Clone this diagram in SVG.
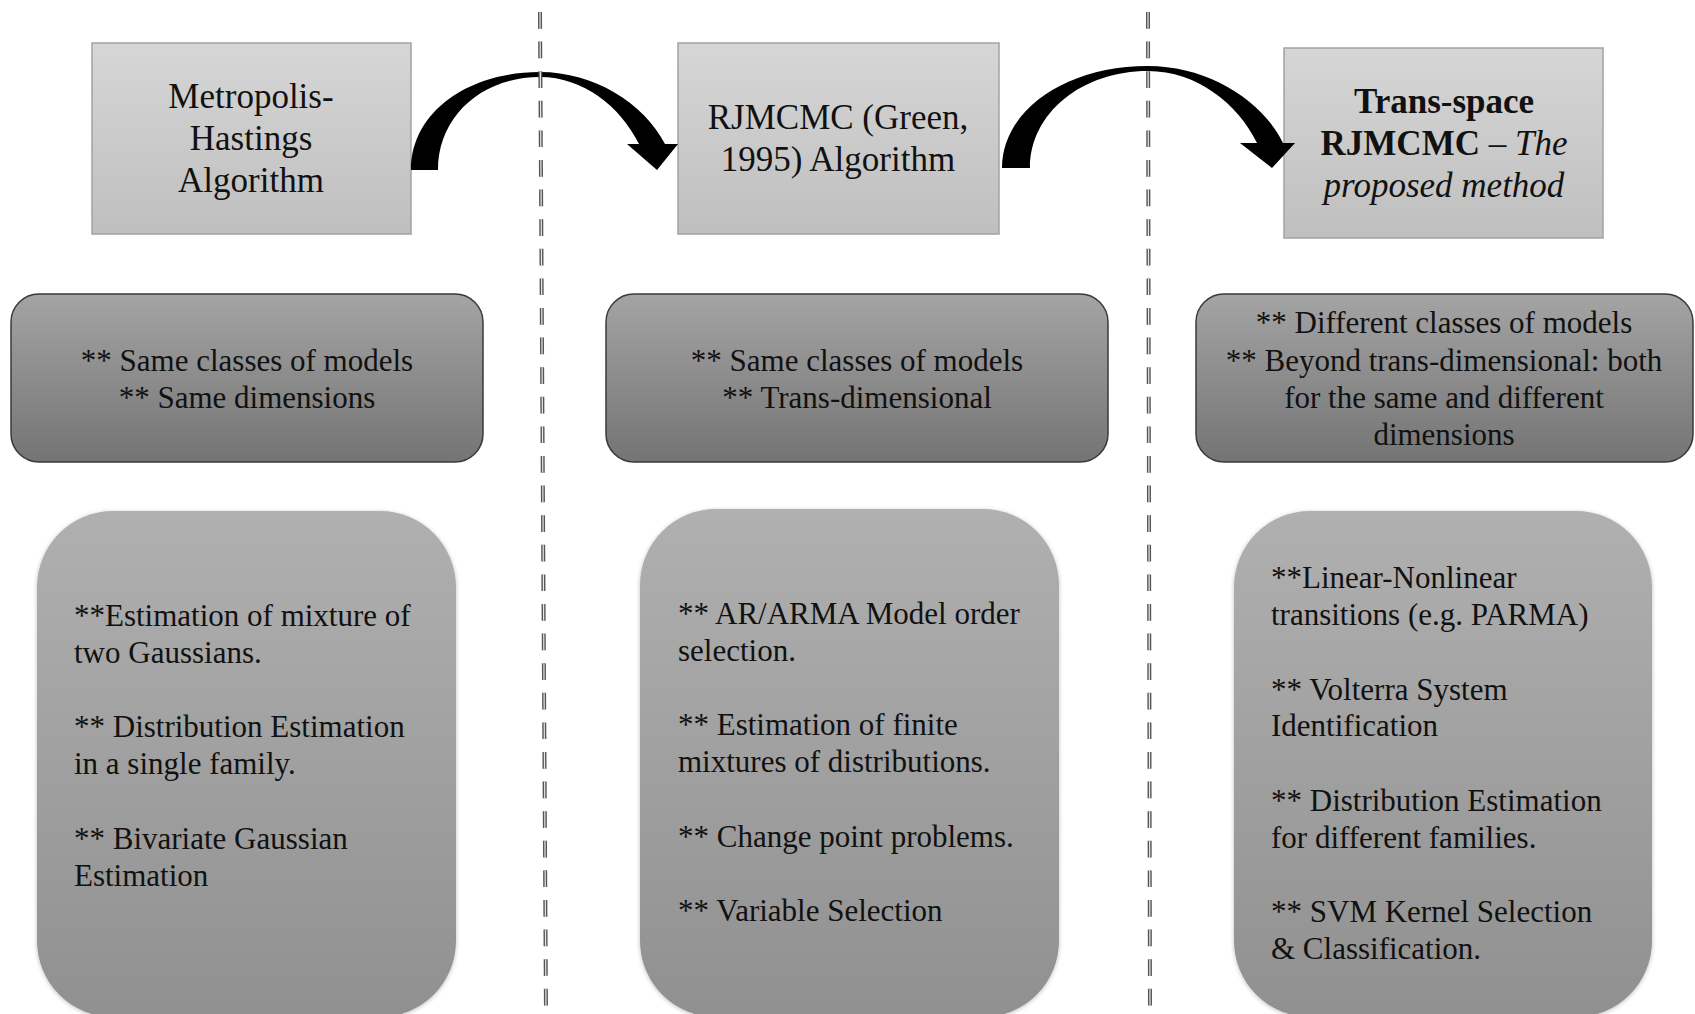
<svg xmlns="http://www.w3.org/2000/svg" width="1695" height="1014" viewBox="0 0 1695 1014">
<defs>
<linearGradient id="gTop" x1="0" y1="0" x2="0" y2="1">
<stop offset="0" stop-color="#d6d6d6"/><stop offset="1" stop-color="#bfbfbf"/>
</linearGradient>
<linearGradient id="gMid" x1="0" y1="0" x2="0" y2="1">
<stop offset="0" stop-color="#a4a4a4"/><stop offset="1" stop-color="#747474"/>
</linearGradient>
<linearGradient id="gBot" x1="0" y1="0" x2="0" y2="1">
<stop offset="0" stop-color="#b0b0b0"/><stop offset="1" stop-color="#909090"/>
</linearGradient>
<filter id="soft" x="-5%" y="-5%" width="110%" height="110%">
<feGaussianBlur in="SourceAlpha" stdDeviation="2"/>
<feOffset dx="0" dy="1" result="b"/>
<feFlood flood-color="#000" flood-opacity="0.25"/>
<feComposite in2="b" operator="in"/>
<feMerge><feMergeNode/><feMergeNode in="SourceGraphic"/></feMerge>
</filter>
</defs>
<style>
text{font-family:"Liberation Serif","Times New Roman",serif;fill:#111;}
.t{font-size:35px;text-anchor:middle;}
.m{font-size:31px;text-anchor:middle;}
.b{font-size:31px;}
.top{fill:url(#gTop);stroke:#a3a3a3;stroke-width:1.5;}
.mid{fill:url(#gMid);stroke:#3a3a3a;stroke-width:1.5;}
.bot{fill:url(#gBot);filter:url(#soft);}
.arrow{fill:#000;}
.dashO{stroke:#555;stroke-width:4;stroke-dasharray:16.7 12.9;fill:none;}
.dashI{stroke:#e8e8e8;stroke-width:1.2;stroke-dasharray:16.7 12.9;fill:none;}
</style>
<rect width="1695" height="1014" fill="#fff"/>

<g id="node-mh">
<rect class="top" x="92" y="43" width="319" height="191"/>
<text class="t" x="251" y="108">Metropolis-</text>
<text class="t" x="251" y="150">Hastings</text>
<text class="t" x="251" y="192">Algorithm</text>
</g>
<g id="node-rjmcmc">
<rect class="top" x="678" y="43" width="321" height="191"/>
<text class="t" x="838" y="129">RJMCMC (Green,</text>
<text class="t" x="838" y="171">1995) Algorithm</text>
</g>
<g id="node-ts">
<rect class="top" x="1284" y="48" width="319" height="190"/>
<text class="t" x="1444" y="113" font-weight="bold">Trans-space</text>
<text class="t" x="1444" y="155"><tspan font-weight="bold">RJMCMC</tspan> – <tspan font-style="italic">The</tspan></text>
<text class="t" x="1444" y="197" font-style="italic">proposed method</text>
</g>

<g id="node-mh-props">
<rect class="mid" x="11" y="294" width="472" height="168" rx="28"/>
<text class="m" x="247" y="371">** Same classes of models</text>
<text class="m" x="247" y="408">** Same dimensions</text>
</g>
<g id="node-rj-props">
<rect class="mid" x="606" y="294" width="502" height="168" rx="28"/>
<text class="m" x="857" y="371">** Same classes of models</text>
<text class="m" x="857" y="408">** Trans-dimensional</text>
</g>
<g id="node-ts-props">
<rect class="mid" x="1196" y="294" width="497" height="168" rx="28"/>
<text class="m" x="1444" y="333">** Different classes of models</text>
<text class="m" x="1444" y="371">** Beyond trans-dimensional: both</text>
<text class="m" x="1444" y="408">for the same and different</text>
<text class="m" x="1444" y="445">dimensions</text>
</g>

<g id="node-mh-apps">
<rect class="bot" x="37" y="511" width="419" height="506" rx="76"/>
<text class="b" x="74" y="626">**Estimation of mixture of</text>
<text class="b" x="74" y="663">two Gaussians.</text>
<text class="b" x="74" y="737">** Distribution Estimation</text>
<text class="b" x="74" y="774">in a single family.</text>
<text class="b" x="74" y="849">** Bivariate Gaussian</text>
<text class="b" x="74" y="886">Estimation</text>
</g>
<g id="node-rj-apps">
<rect class="bot" x="640" y="509" width="419" height="508" rx="76"/>
<text class="b" x="678" y="624">** AR/ARMA Model order</text>
<text class="b" x="678" y="661">selection.</text>
<text class="b" x="678" y="735">** Estimation of finite</text>
<text class="b" x="678" y="772">mixtures of distributions.</text>
<text class="b" x="678" y="847">** Change point problems.</text>
<text class="b" x="678" y="921">** Variable Selection</text>
</g>
<g id="node-ts-apps">
<rect class="bot" x="1234" y="511" width="418" height="506" rx="76"/>
<text class="b" x="1271" y="588">**Linear-Nonlinear</text>
<text class="b" x="1271" y="625">transitions (e.g. PARMA)</text>
<text class="b" x="1271" y="700">** Volterra System</text>
<text class="b" x="1271" y="736">Identification</text>
<text class="b" x="1271" y="811">** Distribution Estimation</text>
<text class="b" x="1271" y="848">for different families.</text>
<text class="b" x="1271" y="922">** SVM Kernel Selection</text>
<text class="b" x="1271" y="959">&amp; Classification.</text>
</g>

<g id="connectors">
<path class="arrow" d="M411,170 C411,112 468,72 540,72 C594,72 644,103 665,144 L678,144 L657,170 L627,144 L639,144 C620,106 583,77 540,77 C482,77 438,116 438,170 Z"/>
<path class="arrow" d="M1002,168 C1002,110 1066,66 1148,66 C1208,66 1262,100 1283,143 L1295,143 L1272,168 L1240,143 L1257,143 C1238,104 1197,71 1148,71 C1082,71 1030,113 1030,168 Z"/>
<path class="dashO" d="M540,12 L546,1014"/>
<path class="dashI" d="M540,12 L546,1014"/>
<path class="dashO" d="M1148,12 L1150,1014"/>
<path class="dashI" d="M1148,12 L1150,1014"/>
</g>
</svg>
